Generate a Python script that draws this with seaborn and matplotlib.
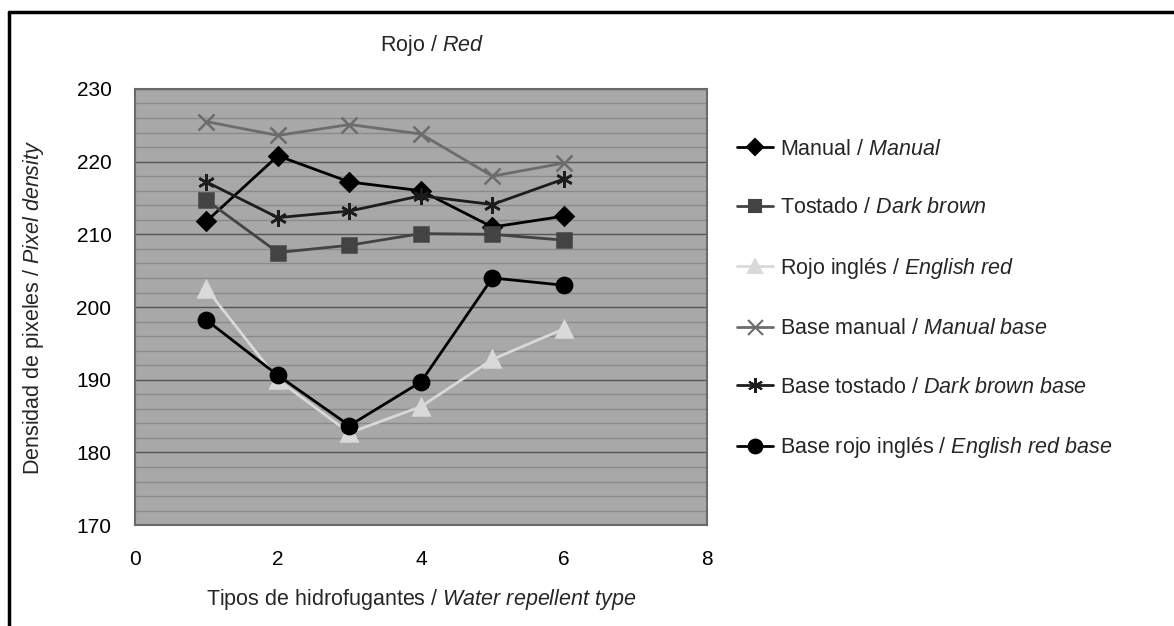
import pandas as pd
import matplotlib.pyplot as plt
import seaborn as sns
from matplotlib.lines import Line2D

tipos = [1, 2, 3, 4, 5, 6]

manual = [211.8, 220.8, 217.2, 216.0, 211.0, 212.5]
tostado = [214.7, 207.5, 208.5, 210.1, 210.0, 209.2]
rojo_ingles = [202.5, 190.0, 182.7, 186.3, 192.8, 197.0]
base_manual = [225.5, 223.6, 225.1, 223.8, 218.0, 219.8]
base_tostado = [217.2, 212.3, 213.2, 215.3, 214.1, 217.6]
base_rojo_ingles = [198.2, 190.6, 183.7, 189.7, 204.0, 203.0]

series = [
    r"Manual / $\it{Manual}$",
    r"Tostado / $\it{Dark\ brown}$",
    r"Rojo inglés / $\it{English\ red}$",
    r"Base manual / $\it{Manual\ base}$",
    r"Base tostado / $\it{Dark\ brown\ base}$",
    r"Base rojo inglés / $\it{English\ red\ base}$",
]
valores = [manual, tostado, rojo_ingles, base_manual, base_tostado, base_rojo_ingles]

colores = ['#000000', '#434343', '#d9d9d9', '#6c6c6c', '#1c1c1c', '#000000']
marcadores = ['D', 's', '^', 'x', (6, 2, 0), 'o']
tamanos = [9, 10, 11, 12, 12, 11]

sns.set_style("white")
plt.rcParams['font.family'] = ['Liberation Sans', 'DejaVu Sans']
plt.rcParams['mathtext.fontset'] = 'custom'
plt.rcParams['mathtext.rm'] = 'Liberation Sans'
plt.rcParams['mathtext.it'] = 'Liberation Sans:italic'

fs = 15.5

fig = plt.figure(figsize=(11.74, 6.26), dpi=100)
ax = fig.add_axes([0.115, 0.161, 0.487, 0.697])
ax.set_facecolor('#a8a8a8')

# gridlines: minor every 2, major every 10
for y in range(170, 231, 2):
    if y % 10 == 0:
        ax.axhline(y, color='#555555', lw=1.0, zorder=0.5)
    else:
        ax.axhline(y, color='#8a8a8a', lw=1.0, zorder=0.5)

handles = []
for s, vals, c, m, ms in zip(series, valores, colores, marcadores, tamanos):
    d = pd.DataFrame({'tipo': tipos, 'valor': vals})
    sns.lineplot(data=d, x='tipo', y='valor', color=c, marker=m, markersize=ms,
                 markerfacecolor=c, markeredgecolor=c, markeredgewidth=1.8,
                 lw=2, ax=ax, zorder=3)
    handles.append(Line2D([], [], color=c, lw=2, marker=m, markersize=ms * 0.9,
                          markerfacecolor=c, markeredgecolor=c, markeredgewidth=1.5))

ax.set_xlim(0, 8)
ax.set_ylim(170, 230)
ax.set_xticks([0, 2, 4, 6, 8])
ax.set_yticks(range(170, 231, 10))
ax.tick_params(axis='both', direction='out', length=5, width=1, color='#808080',
               labelsize=15, labelcolor='black')
ax.tick_params(axis='x', pad=13)
ax.tick_params(axis='y', pad=12)
for sp in ax.spines.values():
    sp.set_color('#6a6a6a')
    sp.set_linewidth(1.5)

ax.set_title(r"Rojo / $\it{Red}$", fontsize=fs, pad=27, x=0.52)
ax.set_xlabel(r"Tipos de hidrofugantes / $\it{Water\ repellent\ type}$", fontsize=fs, labelpad=13)
ax.set_ylabel(r"Densidad de pixeles / $\it{Pixel\ density}$", fontsize=fs, labelpad=22)

fig.legend(handles, series, loc='upper left', bbox_to_anchor=(0.628, 0.778),
           frameon=False, fontsize=fs, handlelength=1.67, handletextpad=0.33,
           labelspacing=1.74, borderpad=0, borderaxespad=0)

# frame of the original picture (left and top edges)
fig.add_artist(Line2D([0.008, 0.008], [0.0, 0.981], color='black', lw=2.5,
                      transform=fig.transFigure))
fig.add_artist(Line2D([0.008, 1.0], [0.981, 0.981], color='black', lw=2.5,
                      transform=fig.transFigure))

fig.savefig('out.png', dpi=100)
